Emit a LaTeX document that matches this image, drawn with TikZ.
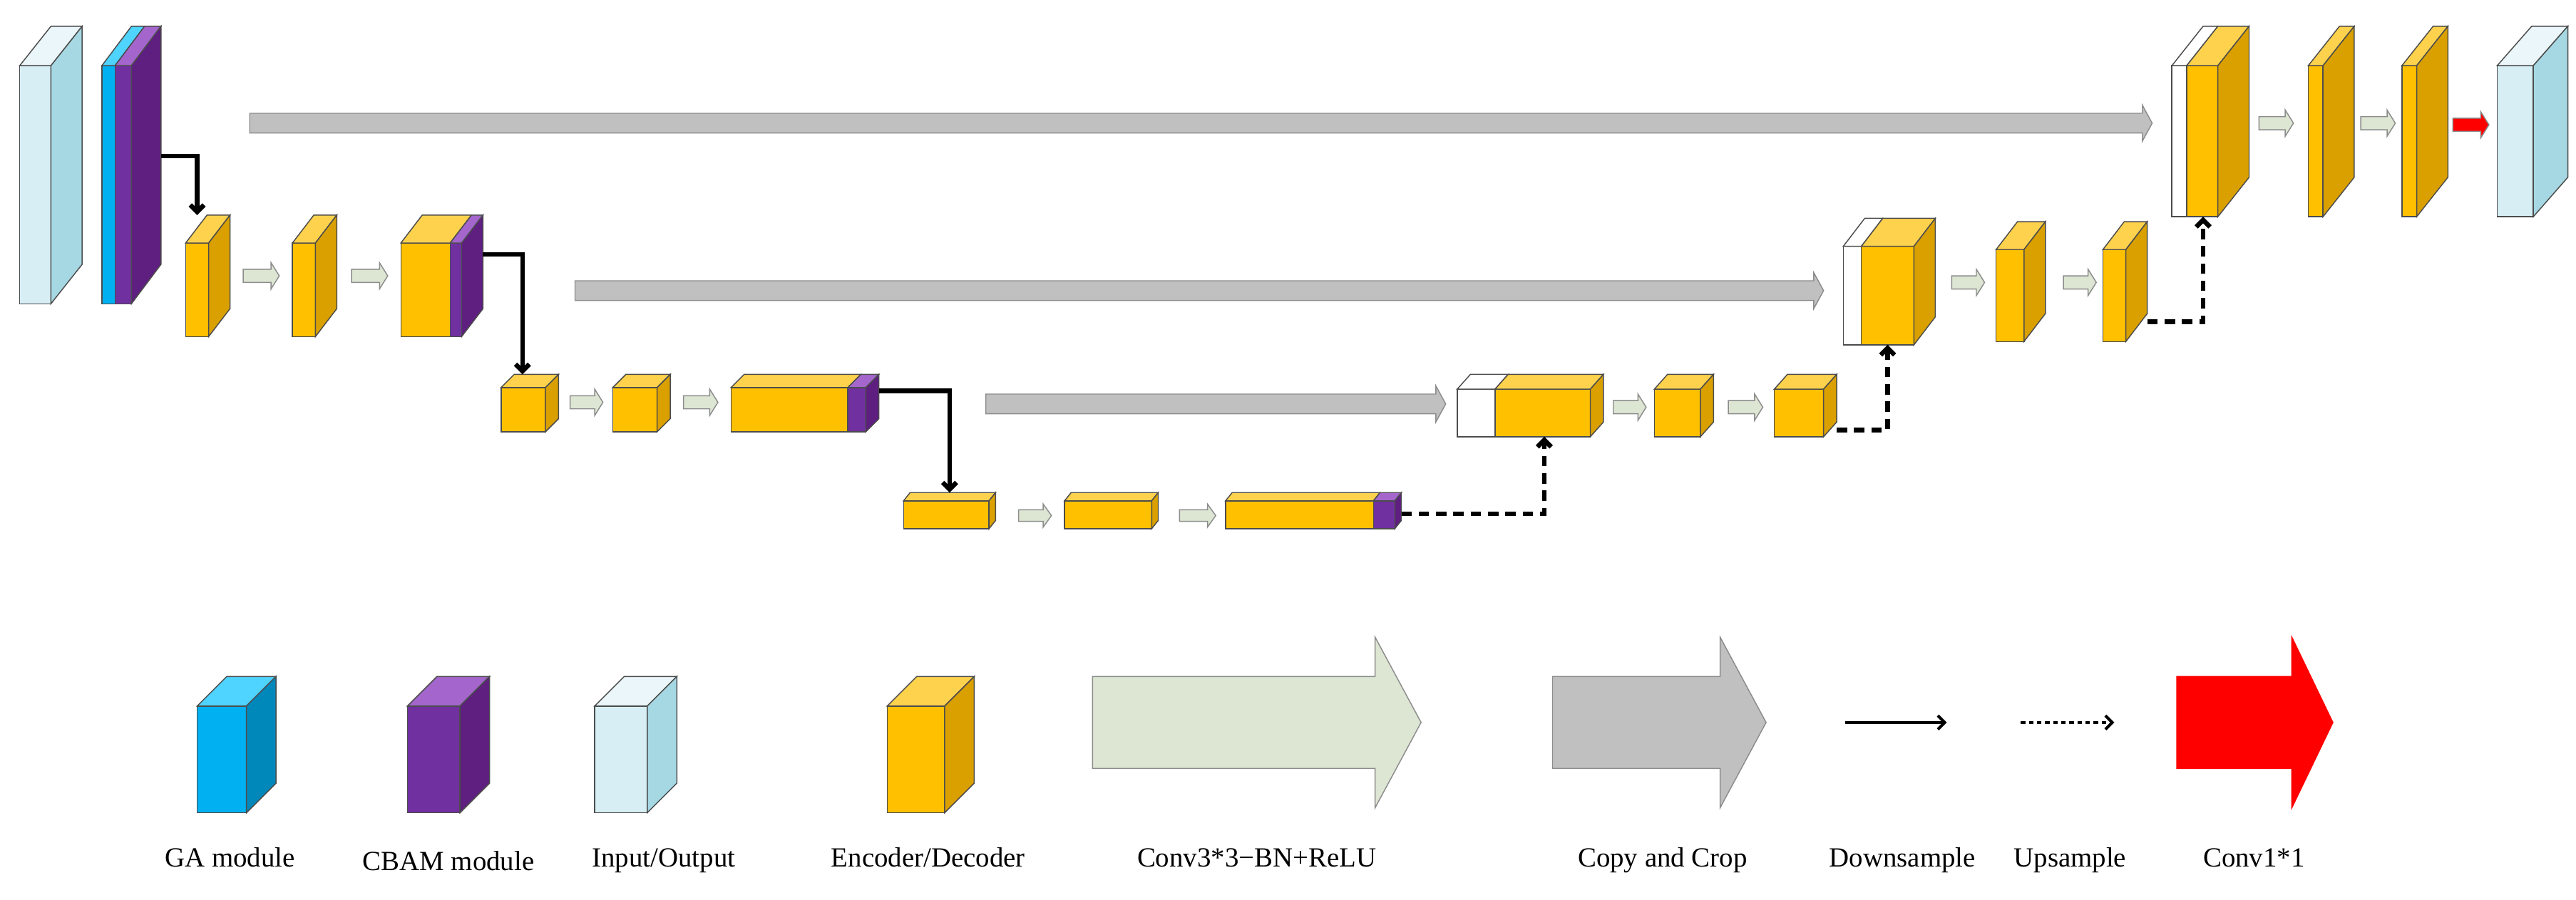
\documentclass[tikz,border=0pt]{standalone}
\usepackage{fontspec}
\setmainfont{Liberation Serif}
\usetikzlibrary{arrows.meta,calc}
\definecolor{of}{HTML}{FFC000}\definecolor{ot}{HTML}{FFD24D}\definecolor{os}{HTML}{D9A000}
\definecolor{pf}{HTML}{7030A0}\definecolor{pt}{HTML}{A466CC}\definecolor{ps}{HTML}{5E1F80}
\definecolor{cf}{HTML}{00B0F0}\definecolor{ct}{HTML}{4FD3FF}\definecolor{cs}{HTML}{0088BB}
\definecolor{lf}{HTML}{D6EEF4}\definecolor{lt}{HTML}{EAF6F9}\definecolor{ls}{HTML}{A6D8E4}
\definecolor{gf}{HTML}{DDE5D3}\definecolor{gy}{HTML}{C0C0C0}
\tikzset{every path/.append style={line width=0.9pt}}
\newcommand{\cub}[9]{%
 \filldraw[draw=black!70,fill=#7] (#1,#3) rectangle (#2,#4);
 \filldraw[draw=black!70,fill=#8] (#1,#3) -- ++(#5,-#6) -- ($(#2,#3)+(#5,-#6)$) -- (#2,#3) -- cycle;
 \filldraw[draw=black!70,fill=#9] (#2,#3) -- ++(#5,-#6) -- ($(#2,#4)+(#5,-#6)$) -- (#2,#4) -- cycle;}
\newcommand{\cubb}[9]{%
 \filldraw[draw=black!70,fill=#8] (#1,#4) rectangle (#2,#5);
 \filldraw[draw=black!70,fill=#9] (#1,#4) -- ++(#6,-#7) -- ($(#2,#4)+(#6,-#7)$) -- (#2,#4) -- cycle;}
\newcommand{\farr}[7]{%
 \filldraw[draw=black!45,fill=#7] (#1,#3-#4) -- (#2-#6,#3-#4) -- (#2-#6,#3-#5) -- (#2,#3) -- (#2-#6,#3+#5) -- (#2-#6,#3+#4) -- (#1,#3+#4) -- cycle;}
\tikzset{down/.style={line width=4pt,-{Straight Barb[length=6pt,width=12pt]}},
 up/.style={line width=4pt,dash pattern=on 9pt off 6pt,-{Straight Barb[length=6pt,width=12pt]}},
 lab/.style={font=\fontsize{24}{28}\selectfont,anchor=base}}
\begin{document}
\begin{tikzpicture}[x=0.05cm,y=-0.05cm]
\useasboundingbox (0,0) rectangle (1568,548);
\cub{12}{31}{40}{185}{19}{24}{lf}{lt}{ls}
\cubb{62}{70}{0}{40}{185}{18}{24}{cf}{ct}
\cub{70}{80}{40}{185}{18}{24}{pf}{pt}{ps}
\coordinate (e1) at (98,95);
\cub{113}{127}{148}{205}{13}{17}{of}{ot}{os}
\cub{178}{192}{148}{205}{13}{17}{of}{ot}{os}
\cubb{244}{274}{0}{148}{205}{13}{17}{of}{ot}
\cub{274}{281}{148}{205}{13}{17}{pf}{pt}{ps}
\farr{148}{170}{168}{4}{8}{5}{gf}
\farr{214}{236}{168}{4}{8}{5}{gf}
\coordinate (e2t) at (120,131);
\coordinate (e2) at (294,155);
\cub{305}{332}{236}{263}{8}{8}{of}{ot}{os}
\cub{373}{400}{236}{263}{8}{8}{of}{ot}{os}
\cubb{445}{516}{0}{236}{263}{8}{8}{of}{ot}
\cub{516}{527}{236}{263}{8}{8}{pf}{pt}{ps}
\farr{347}{367}{245}{4}{8}{5}{gf}
\farr{416}{437}{245}{4}{8}{5}{gf}
\coordinate (e3t) at (318,228);
\coordinate (e3) at (535,238);
\cub{550}{602}{305}{322}{4}{5}{of}{ot}{os}
\cub{648}{701}{305}{322}{4}{5}{of}{ot}{os}
\cubb{746}{836}{0}{305}{322}{4}{5}{of}{ot}
\cub{836}{849}{305}{322}{4}{5}{pf}{pt}{ps}
\farr{620}{640}{314}{3.5}{7}{5}{gf}
\farr{718}{740}{314}{3.5}{7}{5}{gf}
\coordinate (e4t) at (578,300);
\coordinate (e4) at (853,313);
\cubb{887}{910}{0}{237}{266}{8}{9}{white}{white}
\cub{910}{968}{237}{266}{8}{9}{of}{ot}{os}
\cub{1007}{1035}{237}{266}{8}{9}{of}{ot}{os}
\cub{1080}{1110}{237}{266}{8}{9}{of}{ot}{os}
\farr{982}{1002}{248}{4}{8}{5}{gf}
\farr{1052}{1073}{248}{4}{8}{5}{gf}
\coordinate (d3b) at (940,266);
\coordinate (d3) at (1118,262);
\cubb{1122}{1133}{0}{150}{210}{13}{17}{white}{white}
\cub{1133}{1165}{150}{210}{13}{17}{of}{ot}{os}
\cub{1215}{1232}{152}{208}{13}{17}{of}{ot}{os}
\cub{1280}{1294}{152}{208}{13}{17}{of}{ot}{os}
\farr{1188}{1208}{172}{4}{8}{5}{gf}
\farr{1256}{1276}{172}{4}{8}{5}{gf}
\coordinate (d2b) at (1149,210);
\coordinate (d2) at (1307,196);
\cubb{1322}{1331}{0}{40}{132}{19}{24}{white}{white}
\cub{1331}{1350}{40}{132}{19}{24}{of}{ot}{os}
\cub{1405}{1414}{40}{132}{19}{24}{of}{ot}{os}
\cub{1462}{1471}{40}{132}{19}{24}{of}{ot}{os}
\cub{1520}{1542}{40}{132}{21}{24}{lf}{lt}{ls}
\farr{1375}{1396}{75}{4}{8}{5}{gf}
\farr{1437}{1458}{75}{4}{8}{5}{gf}
\farr{1493}{1515}{76}{4}{8}{5}{red}
\coordinate (d1b) at (1341,132);
\farr{152}{1310}{75}{6}{11}{6}{gy}
\farr{350}{1110}{177}{6}{11}{6}{gy}
\farr{600}{880}{246}{6}{11}{6}{gy}
\draw[down] (e1) -| (e2t);
\draw[down] (e2) -| (e3t);
\draw[down] (e3) -| (e4t);
\draw[up] (e4) -| (d3b);
\draw[up] (d3) -| (d2b);
\draw[up] (d2) -| (d1b);
\cub{120}{150}{430}{495}{18}{18}{cf}{ct}{cs}
\cub{248}{280}{430}{495}{18}{18}{pf}{pt}{ps}
\cub{362}{394}{430}{495}{18}{18}{lf}{lt}{ls}
\cub{540}{575}{430}{495}{18}{18}{of}{ot}{os}
\farr{665}{865}{440}{28}{52}{28}{gf}
\farr{945}{1075}{440}{28}{52}{28}{gy}
\filldraw[draw=red,fill=red] (1325,412) -- (1395,412) -- (1395,388) -- (1420,440) -- (1395,492) -- (1395,468) -- (1325,468) -- cycle;
\coordinate (ls1) at (1123,440); \coordinate (ls2) at (1185,440);
\coordinate (lu1) at (1230,440); \coordinate (lu2) at (1287,440);
\draw[down,line width=2.5pt] (ls1) -- (ls2);
\draw[up,line width=2.5pt,dash pattern=on 4pt off 3pt] (lu1) -- (lu2);
\node[lab] (t1) at (140,528) {GA module};
\node[lab] (t2) at (273,530) {CBAM module};
\node[lab] (t3) at (404,528) {Input/Output};
\node[lab] (t4) at (565,528) {Encoder/Decoder};
\node[lab] (t5) at (765,528) {Conv3*3−BN+ReLU};
\node[lab] (t6) at (1012,528) {Copy and Crop};
\node[lab] (t7) at (1158,528) {Downsample};
\node[lab] (t8) at (1260,528) {Upsample};
\node[lab] (t9) at (1372,528) {Conv1*1};
\end{tikzpicture}
\end{document}
